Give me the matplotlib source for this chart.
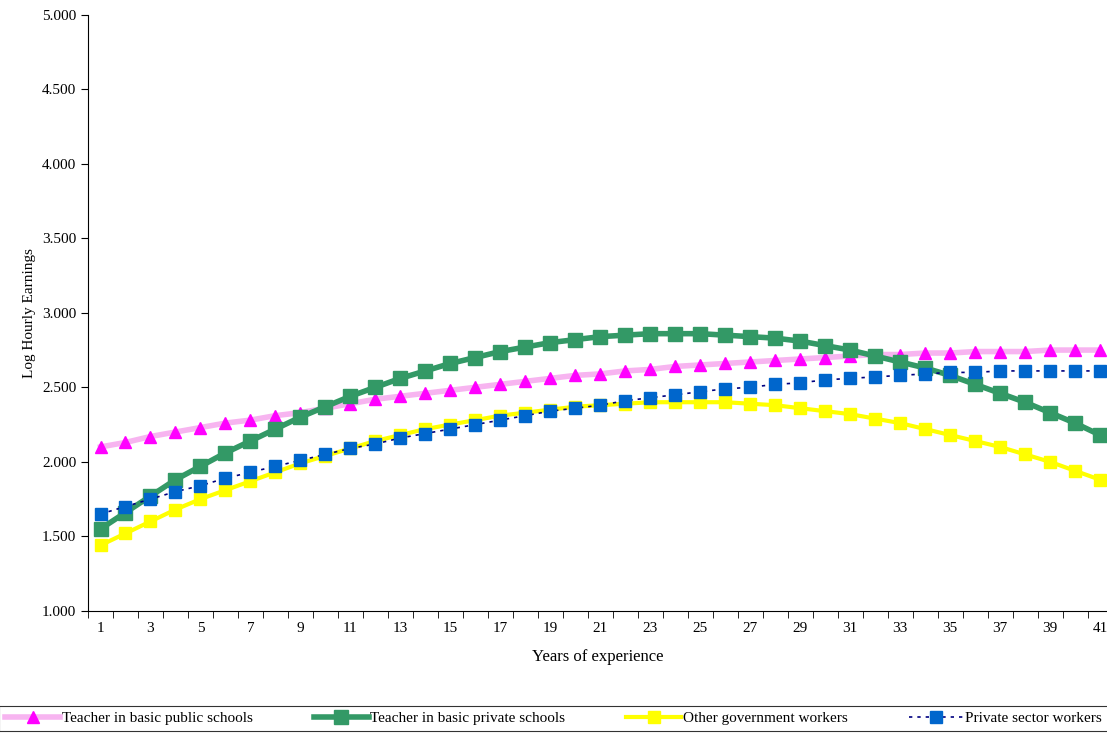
import matplotlib
matplotlib.use("Agg")
import matplotlib.pyplot as plt
import numpy as np

years = list(range(1, 42))
public = [2.10,2.13,2.17,2.20,2.23,2.26,2.28,2.31,2.33,2.36,2.39,2.42,2.44,2.46,2.48,2.50,2.52,2.54,2.56,2.58,
          2.59,2.61,2.62,2.64,2.65,2.66,2.67,2.68,2.69,2.70,2.71,2.72,2.72,2.73,2.73,2.74,2.74,2.74,2.75,2.75,2.75]
private_t = [1.55,1.66,1.77,1.88,1.97,2.06,2.14,2.22,2.30,2.37,2.44,2.50,2.56,2.61,2.66,2.70,2.74,2.77,2.80,2.82,
             2.84,2.85,2.86,2.86,2.86,2.85,2.84,2.83,2.81,2.78,2.75,2.71,2.67,2.63,2.58,2.52,2.46,2.40,2.33,2.26,2.18]
other_gov = [1.44,1.52,1.60,1.68,1.75,1.81,1.87,1.93,1.99,2.04,2.09,2.14,2.18,2.22,2.25,2.28,2.31,2.33,2.35,2.37,
             2.38,2.39,2.40,2.40,2.40,2.40,2.39,2.38,2.36,2.34,2.32,2.29,2.26,2.22,2.18,2.14,2.10,2.05,2.00,1.94,1.88]
private_s = [1.65,1.70,1.75,1.80,1.84,1.89,1.93,1.97,2.01,2.05,2.09,2.12,2.16,2.19,2.22,2.25,2.28,2.31,2.34,2.36,
             2.38,2.41,2.43,2.45,2.47,2.49,2.50,2.52,2.53,2.55,2.56,2.57,2.58,2.59,2.60,2.60,2.61,2.61,2.61,2.61,2.61]
labels = ["Teacher in basic public schools", "Teacher in basic private schools",
          "Other government workers", "Private sector workers"]

plt.rcParams['font.family'] = ['Liberation Serif', 'DejaVu Serif']
fig = plt.figure(figsize=(11.07, 7.36), dpi=100)
ax = fig.add_axes([0.0795, 0.170, 0.9205, 0.81])

ax.plot(years, public, color='#F7B4F0', lw=4, marker='^', ms=9, mfc='#FF00FF', mec='#FF00FF', label=labels[0])
ax.plot(years, private_t, color='#339966', lw=4, marker='s', ms=10, mfc='#339966', mec='#339966', label=labels[1])
ax.plot(years, other_gov, color='#FFFF00', lw=3, marker='s', ms=9, mfc='#FFFF00', mec='#FFFF00', label=labels[2])
ax.plot(years, private_s, color='#000080', lw=1.2, ls=(0, (2, 3)), marker='s', ms=9, mfc='#0066CC', mec='#0066CC', label=labels[3])

ax.set_xlim(0.52, 41.28)
ax.set_ylim(1.0, 5.0)
ax.set_yticks(np.arange(1.0, 5.01, 0.5))
ax.set_yticklabels([f"{v:.3f}" for v in np.arange(1.0, 5.01, 0.5)], fontsize=11)
ax.set_xticks(range(1, 42, 2))
ax.set_xticklabels([str(v) for v in range(1, 42, 2)], fontsize=11)
ax.set_xticks([y + 0.5 for y in range(0, 41)], minor=True)
ax.tick_params(axis='x', which='major', length=0, pad=8)
ax.tick_params(axis='x', which='minor', length=5)
ax.tick_params(axis='y', length=5)
for s in ['top', 'right']:
    ax.spines[s].set_visible(False)
ax.set_ylabel("Log Hourly Earnings", fontsize=11)
ax.set_xlabel("Years of experience", fontsize=12, labelpad=10)

leg = fig.legend(loc='lower center', bbox_to_anchor=(0.5, 0.0), ncol=4, fontsize=11,
                 frameon=True, fancybox=False, edgecolor='black', handlelength=3.6,
                 handletextpad=0.1, columnspacing=4.0, borderaxespad=0.3, borderpad=0.4)
leg.get_frame().set_linewidth(0.8)
fig.savefig("out.png", dpi=100)
